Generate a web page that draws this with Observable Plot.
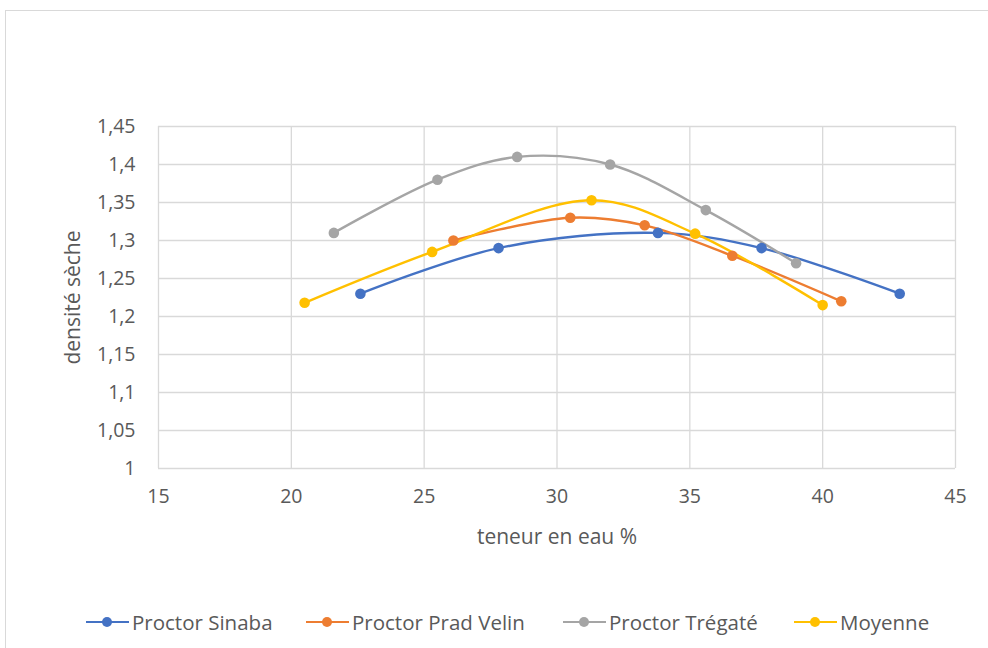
<!DOCTYPE html>
<html>
<head>
<meta charset="utf-8">
<script src="https://cdn.jsdelivr.net/npm/d3@7"></script>
<script src="https://cdn.jsdelivr.net/npm/@observablehq/plot@0.6"></script>
<style>
  html, body { margin: 0; padding: 0; background: #fff; width: 988px; height: 648px; overflow: hidden; }
  #frame { position: absolute; left: 5px; top: 10px; width: 1000px; height: 700px; border: 1px solid #d9d9d9; box-sizing: border-box; }
  #chart { position: absolute; left: 0; top: 0; }
  #legend { position: absolute; left: 0; top: 608px; width: 988px; height: 28px; font-family: "Open Sans", sans-serif; font-size: 20.5px; color: #595959; }
  .item { position: absolute; top: 0; display: flex; align-items: center; height: 28px; white-space: nowrap; }
  .sw { position: relative; width: 43px; height: 28px; margin-right: 3px; }
  .sw .ln { position: absolute; left: 0; right: 0; top: 12.5px; height: 2.5px; }
  .sw .dt { position: absolute; left: 16px; top: 9px; width: 10px; height: 10px; border-radius: 50%; }
</style>
</head>
<body>
<div id="frame"></div>
<div id="chart"></div>
<div id="legend"></div>
<script>
// ---- data ----
const seriesNames = ["Proctor Sinaba", "Proctor Prad Velin", "Proctor Trégaté", "Moyenne"];
const seriesColors = ["#4472C4", "#ED7D31", "#A5A5A5", "#FFC000"];

const sinabaX = [22.6, 27.8, 33.8, 37.7, 42.9];
const sinabaY = [1.23, 1.29, 1.31, 1.29, 1.23];

const pradX = [26.1, 30.5, 33.3, 36.6, 40.7];
const pradY = [1.30, 1.33, 1.32, 1.28, 1.22];

const tregX = [21.6, 25.5, 28.5, 32.0, 35.6, 39.0];
const tregY = [1.31, 1.38, 1.41, 1.40, 1.34, 1.27];

const moyX = [20.5, 25.3, 31.3, 35.2, 40.0];
const moyY = [1.218, 1.285, 1.353, 1.309, 1.215];

const xTicks = [15, 20, 25, 30, 35, 40, 45];
const yTicks = [1, 1.05, 1.1, 1.15, 1.2, 1.25, 1.3, 1.35, 1.4, 1.45];

const xTitle = "teneur en eau %";
const yTitle = "densité sèche";

// ---- build table ----
const raw = [[sinabaX, sinabaY], [pradX, pradY], [tregX, tregY], [moyX, moyY]];
const data = [];
raw.forEach(([xs, ys], i) => xs.forEach((x, j) => data.push({series: seriesNames[i], x, y: ys[j]})));

const fmt = d => String(d).replace(".", ",");
const font = '"Open Sans", sans-serif';

const chart = Plot.plot({
  width: 988,
  height: 560,
  marginLeft: 158,
  marginRight: 33,
  marginTop: 126,
  marginBottom: 92,
  style: {fontFamily: font, fontSize: "19px", color: "#595959", background: "transparent"},
  x: {domain: [15, 45], ticks: xTicks},
  y: {domain: [1, 1.45], ticks: yTicks},
  color: {domain: seriesNames, range: seriesColors},
  marks: [
    Plot.gridX(xTicks, {stroke: "#d9d9d9", strokeOpacity: 1, strokeWidth: 1.3}),
    Plot.gridY(yTicks, {stroke: "#d9d9d9", strokeOpacity: 1, strokeWidth: 1.3}),
    Plot.axisX(xTicks, {tickSize: 0, tickPadding: 21, tickFormat: d => String(d), label: null, fill: "#595959", fontSize: 19.5}),
    Plot.axisY(yTicks, {tickSize: 0, tickPadding: 23, tickFormat: fmt, label: null, fill: "#595959", fontSize: 19.5}),
    Plot.line(data, {x: "x", y: "y", z: "series", stroke: "series", strokeWidth: 2.4, curve: "catmull-rom"}),
    Plot.dot(data, {x: "x", y: "y", fill: "series", r: 5.3}),
    Plot.text([xTitle], {frameAnchor: "bottom", dy: 69, lineAnchor: "middle", textAnchor: "middle", fill: "#595959", fontSize: 21}),
    Plot.text([yTitle], {frameAnchor: "left", dx: -85, rotate: -90, lineAnchor: "middle", textAnchor: "middle", fill: "#595959", fontSize: 21})
  ]
});
document.getElementById("chart").appendChild(chart);

// ---- legend ----
const legendX = [86, 306, 563, 794];
const legend = document.getElementById("legend");
seriesNames.forEach((name, i) => {
  const it = document.createElement("div");
  it.className = "item";
  it.style.left = legendX[i] + "px";
  it.innerHTML = `<div class="sw"><div class="ln" style="background:${seriesColors[i]}"></div><div class="dt" style="background:${seriesColors[i]}"></div></div><span>${name}</span>`;
  legend.appendChild(it);
});
</script>
</body>
</html>
